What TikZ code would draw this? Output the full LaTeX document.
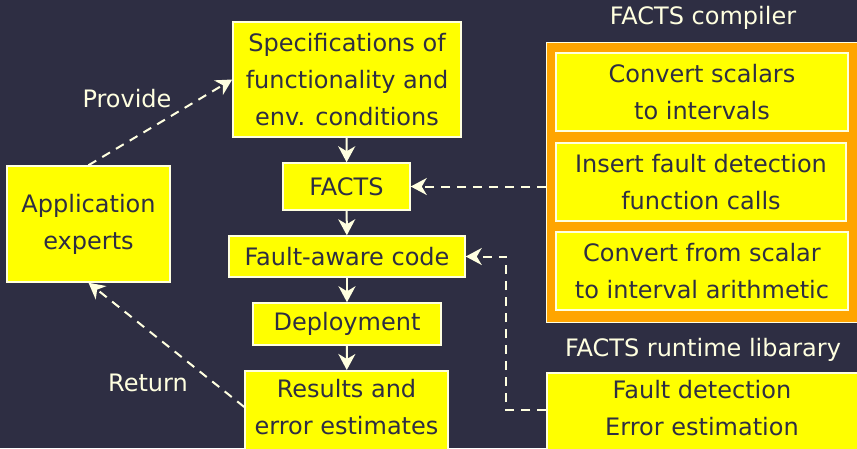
\documentclass[tikz,border=0pt]{standalone}
\usepackage{fontspec}
\setmainfont{DejaVu Sans}
\usetikzlibrary{arrows.meta,calc}
\definecolor{bg}{HTML}{2E2E43}
\definecolor{cream}{HTML}{FFFFE0}
\definecolor{boxyellow}{HTML}{FFFF00}
\definecolor{orangebg}{HTML}{FFA500}
\tikzset{
  x=1pt,y=-1pt,
  box/.style={draw=cream, line width=1.5pt, fill=boxyellow, text=bg, align=center,
    inner sep=0pt, font=\fontsize{24}{37}\selectfont},
  txt/.style={text=bg, align=center, inner sep=0pt, font=\fontsize{24}{37}\selectfont},
  lbl/.style={text=cream, inner sep=0pt, font=\fontsize{24}{28}\selectfont},
  flow/.style={draw=cream, line width=2pt, -{Stealth[length=16pt,width=17pt,inset=5pt]}},
  dflow/.style={draw=cream, line width=2pt, dash pattern=on 9pt off 7pt,
    -{Stealth[length=16pt,width=17pt,inset=5pt]}},
}
\begin{document}
\begin{tikzpicture}
\fill[bg] (0,0) rectangle (857,448);
\useasboundingbox (0,0) rectangle (857,448);
\clip (0,0) rectangle (857,448);

% main flow
\node[box, minimum width=228, minimum height=115] (spec) at (347,79.5)
  {Specifications of\\functionality and\\env. conditions};
\node[box, minimum width=127, minimum height=47] (facts) at (346.5,186.5) {FACTS};
\node[box, minimum width=236, minimum height=41] (fault) at (347,256.5) {Fault-aware code};
\node[box, minimum width=188, minimum height=42] (deploy) at (347,324) {Deployment};
\node[box, minimum width=203, minimum height=100, anchor=north] (results) at (346.5,370) {};
\node[txt] (restext) at (346.5,407) {Results and\\error estimates};

% application experts
\node[box, minimum width=163, minimum height=116] (app) at (88.5,224) {Application\\experts};

% compiler
\node[draw=cream, line width=1.2pt, fill=orangebg, minimum width=330, minimum height=280,
  anchor=north west, inner sep=0pt] (compiler) at (546,42) {};
\node[box, minimum width=292, minimum height=78] (c1) at (702,92) {Convert scalars\\to intervals};
\node[box, minimum width=290, minimum height=78] (c2) at (701,182) {Insert fault detection\\function calls};
\node[box, minimum width=292, minimum height=78] (c3) at (702,271) {Convert from scalar\\to interval arithmetic};
\node[lbl] (complbl) at (703,18) {FACTS compiler};

% runtime
\node[lbl] (rtlbl) at (703,350) {FACTS runtime libarary};
\node[box, minimum width=330, minimum height=100, anchor=north west] (runtime) at (546,372) {};
\node[txt] (rttext) at (702,408.5) {Fault detection\\Error estimation};

% labels
\node[lbl] (provide) at (127,99) {Provide};
\node[lbl] (return) at (148,383) {Return};

% connectors
\draw[flow] (spec) -- (facts);
\draw[flow] (facts) -- (fault);
\draw[flow] (fault) -- (deploy);
\draw[flow] (deploy) -- (results);
\draw[dflow] (app.north) -- (spec.west);
\coordinate (retstart) at (results.west |- restext);
\draw[dflow] (retstart) -- (app.south);
\coordinate (compstart) at (compiler.west |- facts.east);
\draw[dflow] (compstart) -- (facts.east);
\coordinate (rtstart) at (runtime.west |- 0,410);
\coordinate (bend1) at (506,410);
\coordinate (bend2) at (506,256.5);
\draw[dflow] (rtstart) -- (bend1) -- (bend2) -- (fault.east);
\end{tikzpicture}
\end{document}
